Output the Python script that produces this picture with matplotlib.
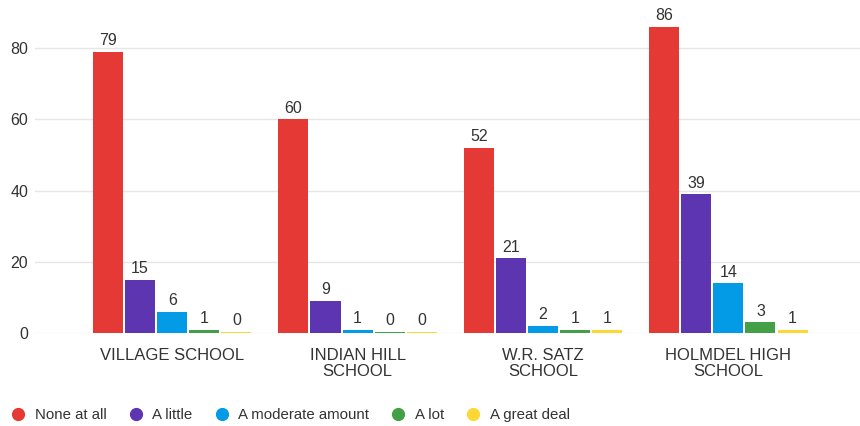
import numpy as np
import matplotlib
matplotlib.use('Agg')
import matplotlib.pyplot as plt
from matplotlib.lines import Line2D

plt.rcParams['font.family'] = ['Liberation Sans', 'DejaVu Sans']

schools = ['VILLAGE SCHOOL', 'INDIAN HILL\nSCHOOL', 'W.R. SATZ\nSCHOOL', 'HOLMDEL HIGH\nSCHOOL']
answers = ['None at all', 'A little', 'A moderate amount', 'A lot', 'A great deal']
none_at_all = [79, 60, 52, 86]
a_little = [15, 9, 21, 39]
moderate = [6, 1, 2, 14]
a_lot = [1, 0, 1, 3]
great_deal = [0, 0, 1, 1]
series = [none_at_all, a_little, moderate, a_lot, great_deal]
colors = ['#e53935', '#5e35b1', '#039be5', '#43a047', '#fdd835']

fig = plt.figure(figsize=(8.6, 4.26), dpi=100)
ax = fig.add_axes([35 / 860, 0.218, 1 - 35 / 860, 0.753])

x = np.arange(len(schools))
slot = 0.173
width = 0.162
for i, (vals, c) in enumerate(zip(series, colors)):
    pos = x + (i - 2) * slot
    heights = [max(v, 0.3) for v in vals]  # zero values still show a thin bar
    ax.bar(pos, heights, width=width, color=c, zorder=3)
    for p, v, h in zip(pos, vals, heights):
        ax.text(p, h + 1.0, str(v), ha='center', va='bottom', fontsize=11.5, color='#333333')

ax.set_xlim(-0.74, 3.71)
ax.set_ylim(0, 90)
ax.set_yticks([0, 20, 40, 60, 80])
ax.set_xticks(x)
ax.set_xticklabels(schools, fontsize=12, color='#333333', linespacing=1.05)
ax.tick_params(axis='x', length=0, pad=11)
ax.tick_params(axis='y', length=0, pad=5, labelsize=11.5, labelcolor='#333333')
ax.grid(axis='y', color='#e6e6e6', linewidth=1, zorder=0)
for s in ax.spines.values():
    s.set_visible(False)

handles = [Line2D([], [], marker='o', linestyle='none', markersize=8.5,
                  markerfacecolor=c, markeredgecolor=c) for c in colors]
fig.legend(handles, answers, loc='center left', bbox_to_anchor=(-0.012, 0.026), ncol=5,
           frameon=False, fontsize=10.8, handletextpad=0.1, columnspacing=0.95,
           labelcolor='#333333')

fig.savefig('out.png', dpi=100)
